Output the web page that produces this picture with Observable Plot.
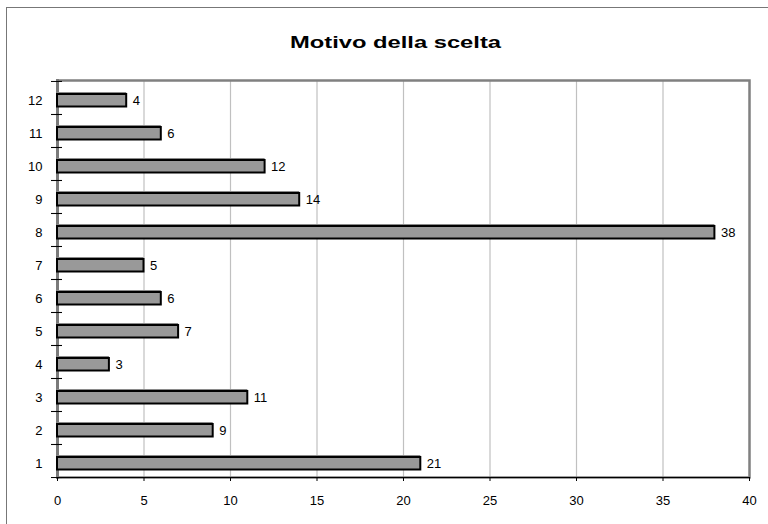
<!DOCTYPE html>
<html>
<head>
<meta charset="utf-8">
<script src="https://cdn.jsdelivr.net/npm/d3@7"></script>
<script src="https://cdn.jsdelivr.net/npm/@observablehq/plot@0.6"></script>
<style>
  html, body { margin: 0; padding: 0; background: #fff; overflow: hidden; }
  #wrap { position: relative; width: 768px; height: 524px; }
  #border { position: absolute; left: 6px; top: 7px; width: 900px; height: 700px;
            border-left: 1.5px solid #777; border-top: 1.5px solid #777; pointer-events: none; }
</style>
</head>
<body>
<div id="wrap"><div id="border"></div></div>
<script>
const title = "Motivo della scelta";
const categories = ["1","2","3","4","5","6","7","8","9","10","11","12"];
const values = [21, 9, 11, 3, 7, 6, 5, 38, 14, 12, 6, 4];
const xTicks = [0, 5, 10, 15, 20, 25, 30, 35, 40];

const data = categories.map((c, i) => ({cat: c, value: values[i]}));

const W = 768, H = 524, mT = 80, mB = 47, mL = 57, mR = 19;
const step = (H - mT - mB) / categories.length;

const chart = Plot.plot({
  width: W, height: H,
  marginTop: mT, marginBottom: mB, marginLeft: mL, marginRight: mR,
  style: {fontFamily: "'Liberation Sans', Arial, sans-serif", fontSize: "13px", color: "#000", background: "transparent"},
  x: {domain: [0, 40]},
  y: {domain: categories.slice().reverse(), padding: 0},
  marks: [
    Plot.gridX(xTicks, {stroke: "#c0c0c0", strokeOpacity: 1, strokeWidth: 1.2}),
    Plot.frame({stroke: "#808080", strokeWidth: 2.5}),
    Plot.frame({anchor: "left", stroke: "#7a7a7a", strokeWidth: 3}),
    Plot.frame({anchor: "bottom", stroke: "#000", strokeWidth: 1.2}),
    Plot.barX(data, {x: "value", y: "cat", fill: "#8a8a8a", dy: -2, insetTop: 13, insetBottom: 7.5}),
    Plot.barX(data, {x: "value", y: "cat", fill: "#999999", stroke: "#000", strokeWidth: 2, insetTop: 13, insetBottom: 7.5}),
    Plot.text(data, {x: "value", y: "cat", text: d => String(d.value), dx: 6, dy: 3, textAnchor: "start", fontSize: 13}),
    Plot.axisX({ticks: xTicks, tickSize: 4, tickPadding: 14, label: null, fontSize: 13}),
    Plot.axisY({tickSize: 0, tickPadding: 15, dy: 3, label: null, fontSize: 13}),
    Plot.axisY({tickSize: 11, dx: 5, dy: -step / 2, tickFormat: () => "", label: null}),
    Plot.axisY({tickSize: 11, dx: 5, dy: step / 2, tickFormat: () => "", label: null}),
    Plot.text([title], {frameAnchor: "top", lineAnchor: "bottom", dy: -33, dx: -8, fontSize: 17, fontWeight: "bold"})
  ]
});

d3.select(chart).selectAll("text").filter(function() { return this.textContent === title; })
  .attr("textLength", 211).attr("lengthAdjust", "spacingAndGlyphs");

document.getElementById("wrap").appendChild(chart);
chart.style.position = "absolute";
chart.style.left = "0px";
chart.style.top = "0px";
</script>
</body>
</html>
